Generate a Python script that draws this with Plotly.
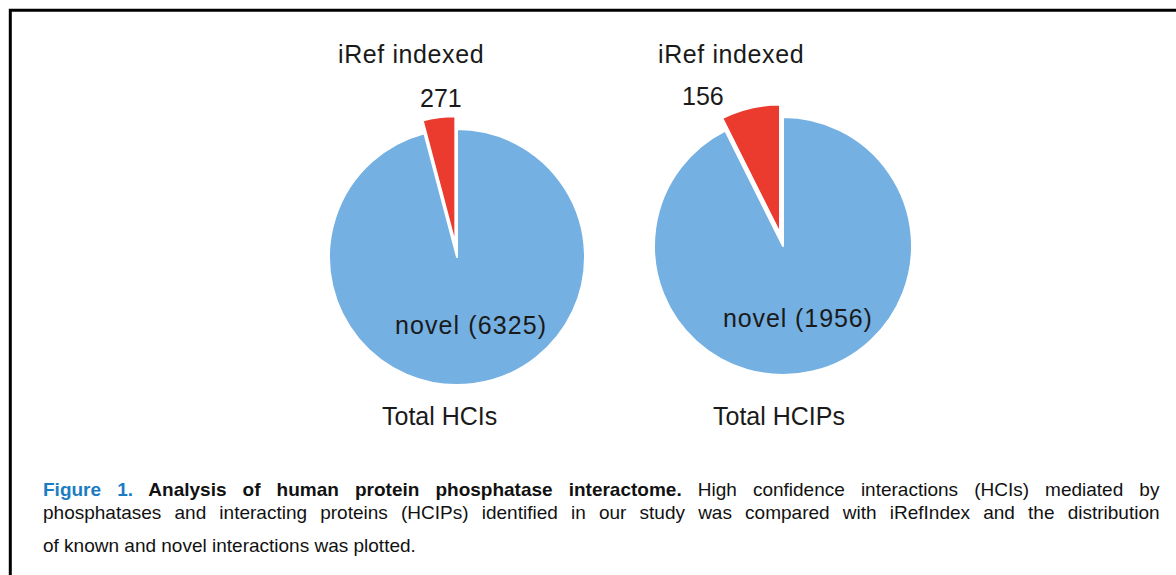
import plotly.graph_objects as go

# ---- data ----
categories = ["novel", "iRef indexed"]
hci_values = [6325, 271]
hcip_values = [1956, 156]
pie_titles = ["Total HCIs", "Total HCIPs"]
slice_colors = ["#74b0e2", "#ea3b2e"]

caption_lines = [
    "<b><span style='color:#1b7cc4'>Figure 1.</span> Analysis of human protein phosphatase interactome.</b> "
    "High confidence interactions (HCIs) mediated by",
    "phosphatases and interacting proteins (HCIPs) identified in our study was compared with iRefIndex and the distribution",
    "of known and novel interactions was plotted.",
]
caption_word_spacing = [10.8, 7.9, 0]

W, H = 1176, 575


def px_domain(cx, cy, r, pull):
    half = r * (1 + pull)
    return dict(x=[(cx - half) / W, (cx + half) / W],
                y=[(H - cy - half) / H, (H - cy + half) / H])


fig = go.Figure()
for vals, (cx, cy, r, pl) in zip([hci_values, hcip_values],
                                 [(457, 257, 128, 0.10), (783, 246, 129, 0.10)]):
    fig.add_trace(go.Pie(
        labels=categories, values=vals, sort=False, direction="clockwise",
        rotation=0, pull=[0, pl], textinfo="none", hoverinfo="label+value",
        marker=dict(colors=slice_colors, line=dict(color="white", width=2)),
        domain=px_domain(cx, cy, r, pl), showlegend=False,
    ))

font_lbl = dict(family="Liberation Sans, Arial, sans-serif", size=25, color="#1a1a1a")


def ann(text, x, y, font, xanchor="center", ls=0):
    if ls:
        text = f"<span style='letter-spacing:{ls}px'>{text}</span>"
    fig.add_annotation(text=text, x=x / W, y=1 - y / H, xref="paper", yref="paper",
                       showarrow=False, font=font, xanchor=xanchor, yanchor="middle")


# pie 1 labels
ann(categories[1], 411, 54, font_lbl, ls=0.6)
ann(str(hci_values[1]), 441, 98, font_lbl)
ann(f"{categories[0]} ({hci_values[0]})", 471, 325, font_lbl, ls=1.1)
ann(pie_titles[0], 439, 416, font_lbl)
# pie 2 labels
ann(categories[1], 731, 54, font_lbl, ls=0.6)
ann(str(hcip_values[1]), 703, 96, font_lbl)
ann(f"{categories[0]} ({hcip_values[0]})", 798, 318, font_lbl, ls=0.9)
ann(pie_titles[1], 779, 416, font_lbl)

font_cap = dict(family="Liberation Sans, Arial, sans-serif", size=19, color="#111111")
for txt, y, ws in zip(caption_lines, [489, 512, 545], caption_word_spacing):
    if ws:
        txt = f"<span style='word-spacing:{ws}px'>{txt}</span>"
    ann(txt, 41, y, font_cap, xanchor="left")

# frame
fig.add_shape(type="rect", xref="paper", yref="paper",
              x0=10.3 / W, x1=1.2, y0=-0.2, y1=1 - 10.3 / H,
              line=dict(color="black", width=3), fillcolor="rgba(0,0,0,0)")

fig.update_layout(width=W, height=H, margin=dict(l=0, r=0, t=0, b=0),
                  paper_bgcolor="white", plot_bgcolor="white")
fig.write_html("out.html", config={"displayModeBar": False},
               post_script="document.body.style.margin='0px';document.body.style.overflow='hidden';")
